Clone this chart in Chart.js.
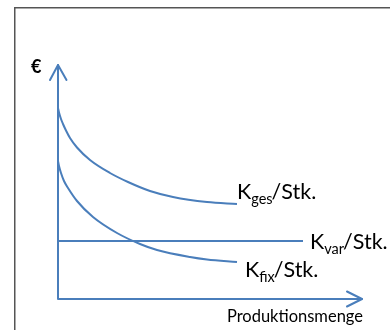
<!DOCTYPE html>
<html>
<head>
<meta charset="utf-8">
<script src="https://cdn.jsdelivr.net/npm/chart.js@4"></script>
<style>
html,body{margin:0;padding:0;background:#fff;}
#wrap{width:390px;height:330px;position:relative;}
</style>
</head>
<body>
<div id="wrap"><canvas id="c" width="390" height="330"></canvas></div>
<script>
// Production quantity (x) and cost per piece (y)
const qFix = [0, 1, 3, 6, 10, 19, 35, 59, 82, 99, 132, 149, 179];
const kFix = [138, 133, 126, 118, 111, 98, 82, 66, 55, 49, 42, 39.5, 37];
const qGes = [0, 1, 3, 5, 8, 12, 19, 32, 52, 70, 92, 115, 149, 179];
const kGes = [191, 186.5, 180, 175, 168.5, 161, 151.5, 139, 126, 117, 108, 102, 97, 95];
const qVar = [0, 245];
const kVar = [58, 58];
const xMax = 304, yMax = 234;
const seriesNames = ['ges', 'var', 'fix'];
const axisY = '€', axisX = 'Produktionsmenge';

const BLUE = '#4a7ebb';
const FONT = 'Lato, "Open Sans", sans-serif';
const pts = (q, k) => q.map((v, i) => ({x: v, y: k[i]}));

const deco = {
  id: 'deco',
  beforeDraw(chart) {
    const ctx = chart.ctx;
    ctx.save();
    ctx.fillStyle = '#fff';
    ctx.fillRect(0, 0, chart.width, chart.height);
    ctx.strokeStyle = '#555';
    ctx.lineWidth = 1.5;
    ctx.strokeRect(14.75, 7.75, 500, 500);
    ctx.restore();
  },
  afterDatasetsDraw(chart) {
    const ctx = chart.ctx, xs = chart.scales.x, ys = chart.scales.y;
    const x0 = xs.getPixelForValue(0), y0 = ys.getPixelForValue(0);
    const x1 = xs.getPixelForValue(xMax), y1 = ys.getPixelForValue(yMax);
    ctx.save();
    ctx.strokeStyle = BLUE; ctx.lineWidth = 2; ctx.lineCap = 'round'; ctx.lineJoin = 'round';
    ctx.beginPath();
    ctx.moveTo(x0, y0); ctx.lineTo(x1, y0);
    ctx.moveTo(x0, y0); ctx.lineTo(x0, y1);
    ctx.stroke();
    ctx.beginPath();
    ctx.moveTo(x1 - 15, y0 - 7.5); ctx.lineTo(x1, y0); ctx.lineTo(x1 - 15, y0 + 7.5);
    ctx.moveTo(x0 - 8, y1 + 15); ctx.lineTo(x0, y1); ctx.lineTo(x0 + 8.5, y1 + 15);
    ctx.stroke();

    ctx.fillStyle = '#000';
    ctx.textBaseline = 'alphabetic';
    ctx.font = 'bold 18px ' + FONT;
    ctx.textAlign = 'left';
    ctx.fillText(axisY, 31, 73);
    ctx.font = '16.5px ' + FONT;
    ctx.textAlign = 'right';
    ctx.fillText(axisX, x1 + 1, 322);

    // series labels at end of each line
    const ends = [
      {sub: seriesNames[0], q: qGes, k: kGes, dx: 0, dy: -5},
      {sub: seriesNames[1], q: qVar, k: kVar, dx: 7, dy: 8},
      {sub: seriesNames[2], q: qFix, k: kFix, dx: 8, dy: 15}
    ];
    ctx.textAlign = 'left';
    ends.forEach(e => {
      const n = e.q.length - 1;
      let x = xs.getPixelForValue(e.q[n]) + e.dx;
      const y = ys.getPixelForValue(e.k[n]) + e.dy;
      ctx.font = '21.5px ' + FONT;
      ctx.fillText('K', x, y);
      x += ctx.measureText('K').width;
      ctx.font = '14.5px ' + FONT;
      ctx.fillText(e.sub, x, y + 5);
      x += ctx.measureText(e.sub).width;
      ctx.font = '21.5px ' + FONT;
      ctx.fillText('/Stk.', x - 1, y);
    });
    ctx.restore();
  }
};

new Chart(document.getElementById('c'), {
  type: 'scatter',
  data: {
    datasets: [
      {data: pts(qGes, kGes)},
      {data: pts(qVar, kVar), tension: 0},
      {data: pts(qFix, kFix)}
    ]
  },
  options: {
    responsive: false,
    animation: false,
    showLine: true,
    layout: {padding: {left: 58, right: 28, top: 65, bottom: 31}},
    elements: {
      point: {radius: 0, hoverRadius: 0},
      line: {borderColor: BLUE, borderWidth: 2, cubicInterpolationMode: 'monotone', fill: false}
    },
    datasets: {scatter: {clip: false, borderColor: BLUE}},
    scales: {
      x: {type: 'linear', min: 0, max: xMax, display: false},
      y: {type: 'linear', min: 0, max: yMax, display: false}
    },
    plugins: {legend: {display: false}, tooltip: {enabled: false}}
  },
  plugins: [deco]
});
</script>
</body>
</html>
